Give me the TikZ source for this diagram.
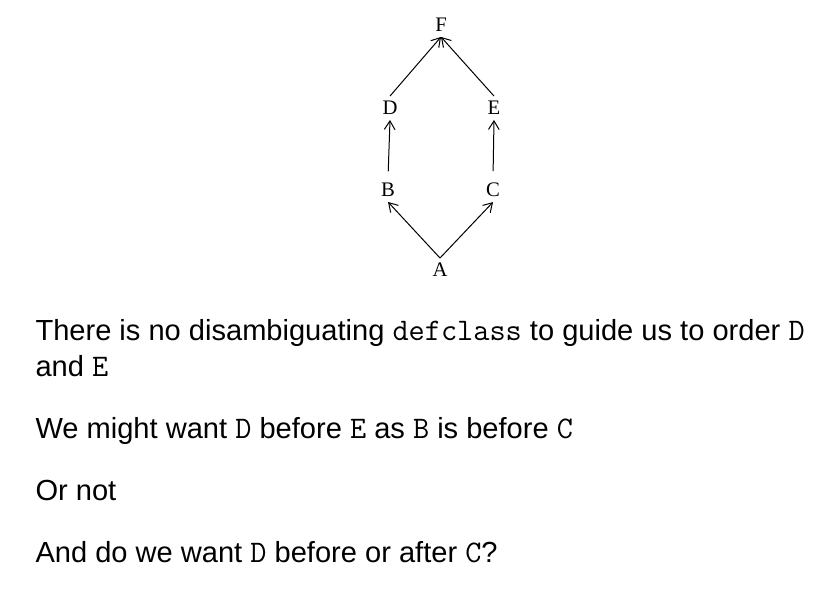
\documentclass[tikz,border=0pt]{standalone}
\usepackage{fontspec}
\setmainfont{Liberation Serif}
\setsansfont{Liberation Sans}
\setmonofont{Latin Modern Mono}[Scale=1.08]
\usetikzlibrary{arrows.meta}

\tikzset{every picture/.style={line width=0.75pt}}
\tikzset{
	cls/.style={inner sep=3.5pt, font=\fontsize{15.5}{18}\selectfont},
	isa/.style={-{Straight Barb[length=6.5pt,width=8pt,line width=0.75pt]}},
	txt/.style={anchor=base west, inner sep=0pt, font=\sffamily\fontsize{21.8}{26}\selectfont}
}

\begin{document}
\begin{tikzpicture}[x=0.75pt,y=0.75pt,yscale=-1,xscale=1]
	%set diagram left start at 0, and has height of 592
	\path [use as bounding box] (0,0) rectangle (834,592);
	
	% Class Nodes
	\node [cls] (F) at (441,25) {F};
	\node [cls] (D) at (390,108) {D};
	\node [cls] (E) at (494,108) {E};
	\node [cls] (B) at (388,190) {B};
	\node [cls] (C) at (493,190) {C};
	\node [cls] (A) at (440,270) {A};
	
	%Straight Lines
	\draw [isa] (A.north) -- (B.south);
	\draw [isa] (A.north) -- (C.south);
	\draw [isa, shorten <=5pt] (B.north) -- (D.south);
	\draw [isa, shorten <=5pt] (C.north) -- (E.south);
	\draw [isa] (D.north) -- (F.south);
	\draw [isa] (E.north) -- (F.south);
	
	% Text Node
	\node [txt] (line1) at (35,340) {There is no disambiguating \texttt{defclass} to guide us to order \texttt{D}};
	% Text Node
	\node [txt] (line2) at (35,376) {and \texttt{E}};
	% Text Node
	\node [txt] (line3) at (35,438) {We might want \texttt{D} before \texttt{E} as \texttt{B} is before \texttt{C}};
	% Text Node
	\node [txt] (line4) at (35,500) {Or not};
	% Text Node
	\node [txt] (line5) at (35,562) {And do we want \texttt{D} before or after \texttt{C}?};
	
\end{tikzpicture}
\end{document}
